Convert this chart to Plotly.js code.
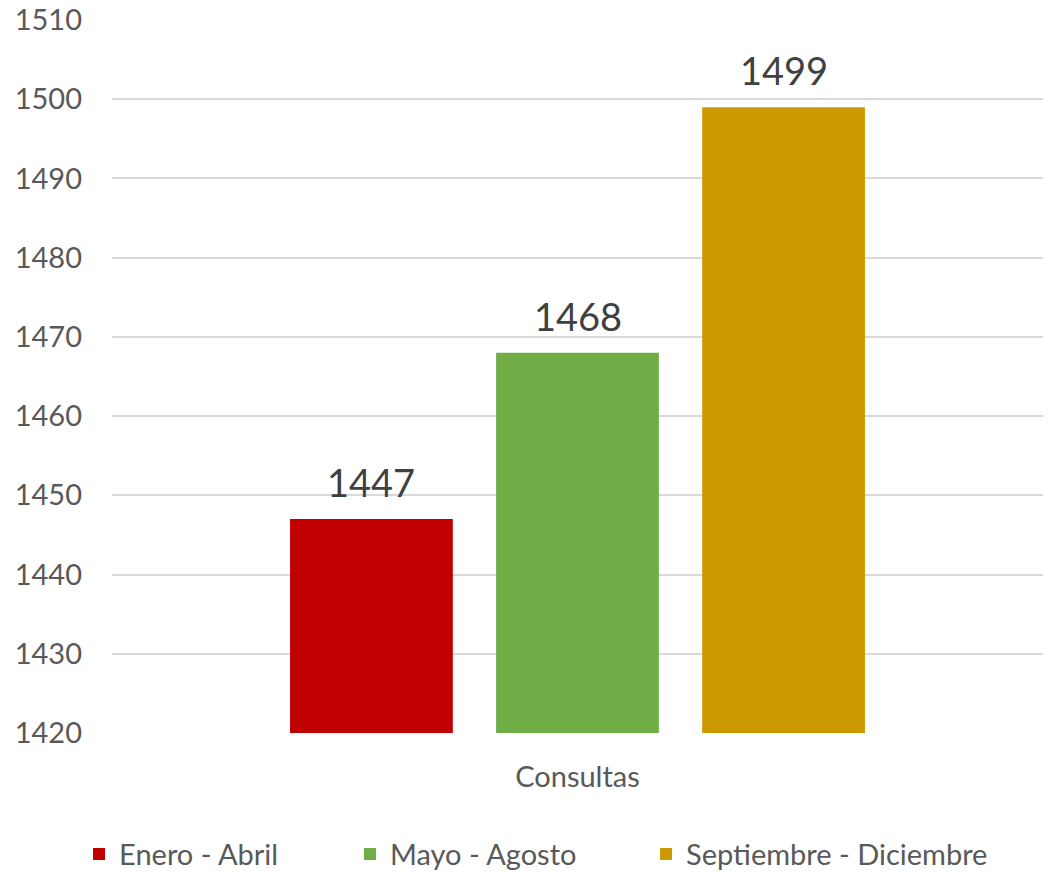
<!DOCTYPE html>
<html>
<head>
<meta charset="utf-8">
<script src="https://cdn.plot.ly/plotly-3.0.1.min.js"></script>
<style>html,body{margin:0;padding:0;background:#fff;}#chart{width:1048px;height:872px;}</style>
</head>
<body>
<div id="chart"></div>
<script>
const categories = ["Consultas"];
const seriesNames = ["Enero - Abril", "Mayo - Agosto", "Septiembre - Diciembre"];
const seriesValues = [[1447], [1468], [1499]];
const seriesColors = ["#C00000", "#70AD47", "#CC9900"];
const yTicks = [1420, 1430, 1440, 1450, 1460, 1470, 1480, 1490, 1500, 1510];

const FONT = "Lato, 'Open Sans', sans-serif";
const BARGAP = 0.336;
const legendIds = ["legend", "legend2", "legend3"];
const legendX = [-0.0354, 0.2556, 0.5736];

const traces = seriesNames.map((name, i) => ({
  type: "bar",
  name: name,
  x: categories,
  y: seriesValues[i],
  marker: {color: seriesColors[i]},
  legend: legendIds[i],
  hoverinfo: "none"
}));

// data labels as annotations, offset per series slot within the group
const slot = (1 - BARGAP) / seriesNames.length;
const annotations = [];
seriesNames.forEach((name, i) => {
  categories.forEach((cat, j) => {
    annotations.push({
      xref: "x", yref: "y",
      x: j + (i - (seriesNames.length - 1) / 2) * slot,
      y: seriesValues[i][j],
      text: String(seriesValues[i][j]),
      showarrow: false,
      xanchor: "center", yanchor: "bottom",
      yshift: 12,
      font: {family: FONT, size: 38, color: "#404040"}
    });
  });
});

const layout = {
  width: 1048, height: 872,
  margin: {l: 112, r: 5, t: 20, b: 139, autoexpand: false},
  paper_bgcolor: "#fff", plot_bgcolor: "#fff",
  barmode: "group",
  bargap: BARGAP,
  bargroupgap: 0.21,
  showlegend: true,
  annotations: annotations,
  xaxis: {
    type: "category",
    showgrid: false, zeroline: false, showline: false,
    ticks: "", tickfont: {family: FONT, size: 29, color: "#595959"},
    ticklabelstandoff: 24
  },
  yaxis: {
    range: [1420, 1510],
    tickvals: yTicks,
    ticktext: yTicks.map(String),
    showgrid: true, gridcolor: "#D9D9D9", gridwidth: 2,
    zeroline: false, showline: false, ticks: "",
    tickfont: {family: FONT, size: 29, color: "#595959"},
    ticklabelstandoff: 29
  }
};
legendIds.forEach((id, i) => {
  layout[id] = {
    orientation: "h", x: legendX[i], xanchor: "left", y: -0.17, yanchor: "middle",
    font: {family: FONT, size: 29, color: "#595959"},
    itemwidth: 30, bgcolor: "rgba(0,0,0,0)"
  };
});

Plotly.newPlot("chart", traces, layout, {staticPlot: true, displayModeBar: false});
</script>
</body>
</html>
